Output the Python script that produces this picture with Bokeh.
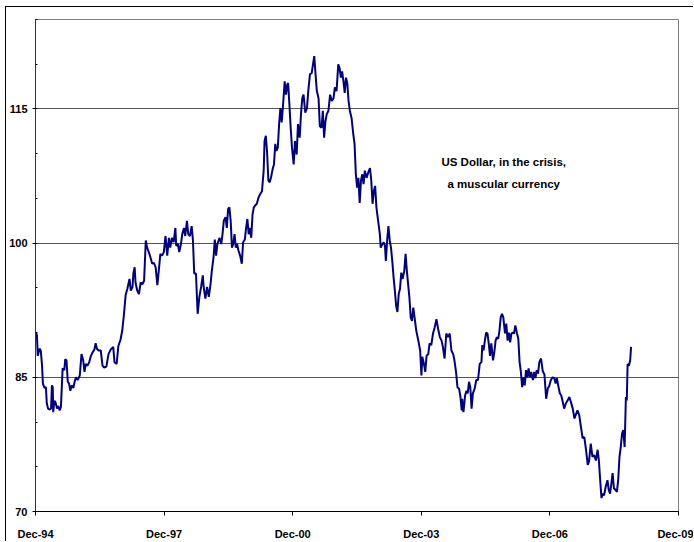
from bokeh.plotting import figure
from bokeh.models import Range1d, FixedTicker, CustomJSTickFormatter
from bokeh.core.properties import value
from bokeh.embed import file_html
from bokeh.resources import INLINE

# decimal years and index values
years = [
    1994.93, 1994.95, 1994.97, 1995.01, 1995.04, 1995.07, 1995.09, 1995.13, 1995.16, 1995.18,
    1995.21, 1995.24, 1995.28, 1995.30, 1995.32, 1995.33, 1995.36, 1995.39, 1995.42, 1995.45,
    1995.48, 1995.51, 1995.55, 1995.59, 1995.61, 1995.64, 1995.67, 1995.70, 1995.73, 1995.76,
    1995.80, 1995.83, 1995.86, 1995.90, 1995.95, 1995.99, 1996.03, 1996.06, 1996.09, 1996.13,
    1996.17, 1996.21, 1996.25, 1996.29, 1996.32, 1996.35, 1996.39, 1996.44, 1996.48, 1996.52,
    1996.57, 1996.62, 1996.67, 1996.73, 1996.76, 1996.81, 1996.85, 1996.90, 1996.94, 1996.98,
    1997.02, 1997.06, 1997.11, 1997.14, 1997.18, 1997.20, 1997.23, 1997.25, 1997.29, 1997.33,
    1997.37, 1997.41, 1997.45, 1997.49, 1997.52, 1997.56, 1997.60, 1997.64, 1997.68, 1997.72,
    1997.76, 1997.80, 1997.83, 1997.87, 1997.91, 1997.95, 1997.99, 1998.03, 1998.06, 1998.10,
    1998.14, 1998.18, 1998.20, 1998.24, 1998.27, 1998.31, 1998.34, 1998.38, 1998.41, 1998.45,
    1998.48, 1998.52, 1998.56, 1998.59, 1998.62, 1998.66, 1998.70, 1998.74, 1998.78, 1998.82,
    1998.84, 1998.88, 1998.92, 1998.96, 1999.00, 1999.03, 1999.07, 1999.10, 1999.13, 1999.16,
    1999.21, 1999.25, 1999.28, 1999.31, 1999.35, 1999.38, 1999.41, 1999.44, 1999.47, 1999.50,
    1999.53, 1999.56, 1999.59, 1999.62, 1999.65, 1999.69, 1999.73, 1999.76, 1999.80, 1999.83,
    1999.86, 1999.89, 1999.92, 1999.95, 1999.98, 2000.01, 2000.04, 2000.08, 2000.12, 2000.16,
    2000.20, 2000.24, 2000.26, 2000.29, 2000.32, 2000.35, 2000.38, 2000.41, 2000.45, 2000.48,
    2000.51, 2000.54, 2000.57, 2000.60, 2000.63, 2000.66, 2000.69, 2000.73, 2000.76, 2000.79,
    2000.81, 2000.84, 2000.87, 2000.90, 2000.94, 2000.97, 2001.01, 2001.04, 2001.08, 2001.11,
    2001.14, 2001.17, 2001.21, 2001.25, 2001.28, 2001.32, 2001.36, 2001.40, 2001.42, 2001.45,
    2001.48, 2001.52, 2001.55, 2001.59, 2001.62, 2001.65, 2001.68, 2001.71, 2001.75, 2001.79,
    2001.83, 2001.87, 2001.90, 2001.94, 2001.98, 2002.01, 2002.04, 2002.07, 2002.10, 2002.13,
    2002.16, 2002.19, 2002.22, 2002.25, 2002.29, 2002.33, 2002.36, 2002.39, 2002.42, 2002.45,
    2002.48, 2002.51, 2002.54, 2002.57, 2002.60, 2002.64, 2002.68, 2002.72, 2002.75, 2002.78,
    2002.81, 2002.84, 2002.87, 2002.91, 2002.95, 2002.97, 2003.01, 2003.04, 2003.07, 2003.09,
    2003.12, 2003.15, 2003.18, 2003.21, 2003.24, 2003.27, 2003.30, 2003.33, 2003.36, 2003.39,
    2003.42, 2003.45, 2003.48, 2003.52, 2003.55, 2003.58, 2003.61, 2003.64, 2003.67, 2003.70,
    2003.73, 2003.76, 2003.80, 2003.83, 2003.86, 2003.89, 2003.92, 2003.94, 2003.97, 2004.01,
    2004.04, 2004.08, 2004.11, 2004.15, 2004.19, 2004.23, 2004.27, 2004.31, 2004.35, 2004.39,
    2004.42, 2004.46, 2004.50, 2004.54, 2004.58, 2004.62, 2004.66, 2004.69, 2004.73, 2004.76,
    2004.80, 2004.83, 2004.86, 2004.87, 2004.90, 2004.94, 2004.97, 2005.00, 2005.03, 2005.06,
    2005.09, 2005.12, 2005.16, 2005.20, 2005.24, 2005.28, 2005.32, 2005.34, 2005.37, 2005.40,
    2005.43, 2005.46, 2005.49, 2005.52, 2005.55, 2005.59, 2005.62, 2005.65, 2005.68, 2005.71,
    2005.74, 2005.77, 2005.80, 2005.83, 2005.87, 2005.90, 2005.93, 2005.96, 2005.99, 2006.02,
    2006.05, 2006.08, 2006.11, 2006.15, 2006.18, 2006.21, 2006.24, 2006.27, 2006.30, 2006.33,
    2006.36, 2006.39, 2006.42, 2006.45, 2006.48, 2006.52, 2006.55, 2006.58, 2006.61, 2006.64,
    2006.67, 2006.71, 2006.75, 2006.79, 2006.83, 2006.87, 2006.90, 2006.94, 2006.98, 2007.02,
    2007.05, 2007.08, 2007.11, 2007.15, 2007.18, 2007.21, 2007.25, 2007.29, 2007.33, 2007.37,
    2007.41, 2007.45, 2007.49, 2007.52, 2007.56, 2007.60, 2007.64, 2007.68, 2007.72, 2007.76,
    2007.80, 2007.83, 2007.87, 2007.91, 2007.95, 2007.99, 2008.03, 2008.06, 2008.09, 2008.12,
    2008.15, 2008.18, 2008.22, 2008.26, 2008.29, 2008.32, 2008.35, 2008.38, 2008.41, 2008.45,
    2008.48, 2008.51, 2008.54, 2008.57, 2008.60, 2008.63, 2008.66, 2008.69, 2008.71, 2008.73,
    2008.76, 2008.79, 2008.81,
]

usd_index = [
    90.0, 89.7, 87.4, 88.2, 88.0, 86.3, 84.3, 83.8, 83.9, 82.1,
    81.5, 81.4, 81.5, 84.1, 83.9, 81.1, 82.4, 82.1, 81.5, 81.8,
    81.3, 81.7, 86.0, 85.8, 87.0, 86.9, 84.5, 84.3, 83.5, 84.1,
    83.8, 84.5, 85.0, 84.7, 85.2, 87.6, 86.9, 85.6, 86.5, 86.3,
    86.7, 87.4, 87.8, 88.1, 88.8, 88.2, 88.0, 88.0, 86.3, 86.1,
    86.2, 87.6, 88.1, 88.4, 86.7, 86.5, 88.5, 89.2, 90.2, 92.0,
    94.2, 94.9, 96.0, 94.7, 95.1, 96.6, 97.3, 95.6, 94.7, 94.3,
    95.6, 95.4, 95.8, 100.3, 99.5, 99.0, 98.4, 97.7, 97.8, 97.3,
    95.3, 97.3, 98.8, 98.6, 99.0, 100.8, 98.6, 100.6, 99.5, 100.6,
    100.1, 101.7, 99.7, 99.9, 99.0, 99.9, 101.0, 101.7, 100.8, 102.5,
    101.0, 100.8, 101.9, 100.3, 96.6, 96.6, 92.1, 94.0, 95.1, 96.4,
    95.1, 93.8, 95.1, 94.0, 95.4, 96.9, 98.4, 100.4, 98.6, 99.9,
    100.6, 99.9, 101.0, 102.5, 102.9, 101.7, 103.8, 104.0, 102.5, 99.5,
    99.9, 101.0, 99.5, 99.9, 99.2, 98.6, 97.7, 100.1, 100.4, 101.7,
    102.7, 101.0, 101.7, 100.6, 103.2, 104.0, 104.2, 104.4, 105.1, 105.5,
    105.8, 108.1, 111.4, 112.0, 110.1, 107.0, 106.8, 107.3, 108.3, 108.8,
    111.1, 110.3, 110.7, 113.3, 115.1, 113.5, 115.3, 118.1, 116.6, 117.7,
    117.9, 115.5, 112.9, 110.7, 108.8, 111.4, 109.9, 113.3, 111.8, 114.4,
    116.2, 116.6, 114.6, 115.1, 117.0, 118.9, 119.0, 120.3, 120.9, 118.9,
    117.0, 116.2, 113.1, 112.9, 114.8, 111.8, 113.6, 114.4, 114.8, 116.6,
    115.9, 116.2, 117.4, 117.0, 120.0, 119.6, 118.5, 119.2, 118.1, 116.8,
    118.5, 117.9, 115.9, 114.8, 114.0, 112.2, 111.1, 107.7, 106.2, 107.3,
    104.5, 107.0, 107.7, 106.6, 108.1, 107.3, 107.9, 108.4, 107.0, 104.4,
    105.8, 106.4, 104.0, 102.5, 101.0, 99.5, 99.9, 100.1, 99.7, 98.0,
    100.3, 101.9, 100.3, 99.5, 98.0, 96.2, 94.7, 93.0, 92.3, 94.3,
    94.9, 96.7, 96.0, 96.9, 98.8, 96.9, 95.4, 93.9, 91.7, 91.3,
    92.8, 91.7, 90.2, 89.5, 88.8, 88.0, 85.2, 87.3, 86.7, 85.6,
    87.4, 87.6, 88.8, 88.6, 89.9, 90.6, 91.5, 90.4, 89.5, 89.1,
    88.4, 87.1, 89.9, 89.5, 89.9, 88.0, 87.6, 86.9, 85.5, 83.9,
    83.7, 82.8, 81.3, 82.6, 81.1, 83.0, 83.5, 83.2, 84.5, 83.9,
    81.5, 83.2, 83.7, 84.7, 84.7, 86.5, 86.7, 88.6, 88.0, 89.1,
    90.0, 89.9, 88.8, 87.4, 88.8, 86.9, 87.8, 89.1, 89.5, 89.3,
    90.2, 91.7, 92.1, 91.7, 89.9, 91.0, 89.1, 90.0, 88.9, 89.9,
    90.0, 89.9, 90.8, 89.9, 89.3, 86.7, 85.6, 83.9, 85.0, 84.1,
    85.8, 85.0, 86.0, 85.0, 85.6, 84.7, 85.6, 84.9, 85.8, 85.4,
    86.7, 87.1, 85.7, 85.3, 82.6, 83.8, 84.0, 84.7, 85.0, 84.9,
    84.3, 84.9, 84.1, 83.2, 83.0, 82.4, 81.5, 82.1, 82.4, 82.8,
    82.2, 81.5, 80.4, 80.8, 81.3, 80.8, 79.5, 78.2, 78.3, 76.9,
    75.2, 75.6, 77.6, 76.1, 76.3, 75.7, 76.9, 75.7, 73.5, 71.5,
    72.0, 71.8, 72.8, 73.5, 72.4, 72.0, 73.1, 74.3, 72.6, 72.4,
    72.2, 73.5, 76.1, 77.2, 78.7, 79.1, 77.2, 82.8, 82.4, 86.5,
    86.3, 86.9, 88.4,
]

tick_years = [1994.917, 1997.917, 2000.917, 2003.917, 2006.917, 2009.917]
tick_labels = ["Dec-94", "Dec-97", "Dec-00", "Dec-03", "Dec-06", "Dec-09"]
y_major = [70, 85, 100, 115]
y_minor = [70, 75, 80, 85, 90, 95, 100, 105, 110, 115, 120, 125]

note_lines = ["US Dollar, in the crisis,", "a muscular currency"]
note_x = [2005.84, 2005.84]
note_y = [109.1, 106.6]

p = figure(
    width=688, height=535,
    x_range=Range1d(tick_years[0], tick_years[-1]),
    y_range=Range1d(70, 125),
    output_backend="svg", toolbar_location=None,
    min_border_left=27, min_border_top=12, min_border_right=16, min_border_bottom=31,
)
p.styles = {
    "margin-left": "5px", "margin-top": "6px",
    "border-left": "1px solid #000000", "border-top": "1px solid #000000",
}
p.background_fill_color = "white"
p.border_fill_color = "white"
p.outline_line_color = "#808080"
p.outline_line_width = 1

p.xgrid.visible = False
p.ygrid.grid_line_color = "#555555"
p.ygrid.grid_line_width = 1

p.xaxis.ticker = FixedTicker(ticks=tick_years)
p.xaxis.formatter = CustomJSTickFormatter(args=dict(labels=tick_labels), code="return labels[index];")
p.xaxis.major_tick_out = 4
p.xaxis.major_tick_in = 0
p.xaxis.major_label_standoff = 12
p.xaxis.axis_line_color = "#000000"

p.yaxis.ticker = FixedTicker(ticks=y_major, minor_ticks=y_minor)
p.yaxis.major_tick_out = 3
p.yaxis.major_tick_in = 0
p.yaxis.minor_tick_in = 2
p.yaxis.minor_tick_out = 0
p.yaxis.major_label_standoff = 5
p.yaxis.axis_line_color = "#333333"

for ax in (p.xaxis, p.yaxis):
    ax.major_label_text_font = "Liberation Sans"
    ax.major_label_text_font_style = "bold"
    ax.major_label_text_font_size = "11px"
    ax.major_label_text_color = "#000000"
    ax.major_tick_line_color = "#000000"
    ax.minor_tick_line_color = "#000000"

p.xaxis.minor_tick_line_color = None

p.line(years, usd_index, line_color="#000080", line_width=2)

p.text(x=note_x, y=note_y, text=note_lines, text_align="center", text_baseline="middle",
       text_font=value("Liberation Sans"), text_font_size="11.5px", text_font_style="bold",
       text_color="#000000")

open("out.html", "w").write(file_html(p, INLINE))
